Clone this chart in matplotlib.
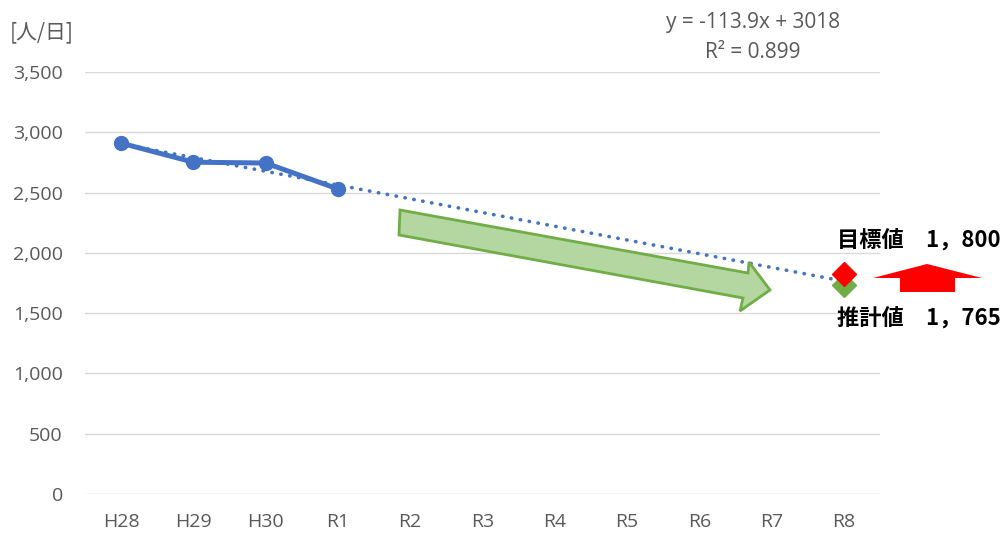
import matplotlib
matplotlib.use("Agg")
import matplotlib.pyplot as plt
from matplotlib.patches import Polygon
import numpy as np

plt.rcParams['font.family'] = ['Open Sans', 'Noto Sans CJK JP', 'DejaVu Sans']

categories = ["H28", "H29", "H30", "R1", "R2", "R3", "R4", "R5", "R6", "R7", "R8"]
actual = [2910, 2752, 2745, 2530]
trend_slope = -113.9
trend_intercept = 3018
target_value = 1825
estimate_value = 1730
yticks = [0, 500, 1000, 1500, 2000, 2500, 3000, 3500]

W, H = 1003, 533
fig = plt.figure(figsize=(W / 100, H / 100), dpi=100)
ax = fig.add_axes([85 / W, (H - 494) / H, 795 / W, 422 / H])

blue = "#4472C4"
gray = "#595959"

x = np.arange(len(categories))
# trend line
tx = np.arange(len(categories))
ty = trend_intercept + trend_slope * (tx + 1)
ax.plot(tx, ty, color=blue, lw=2.6, linestyle=(0, (0.1, 2.4)), dash_capstyle='round', zorder=3)
# actual
ax.plot(x[:len(actual)], actual, color=blue, lw=3.6, marker='o', markersize=10, zorder=4)
# diamonds
ax.plot([x[-1]], [estimate_value], marker='D', color='#70AD47', markersize=12, linestyle='none', zorder=5, clip_on=False)
ax.plot([x[-1]], [target_value], marker='D', color='#FF0000', markersize=12, linestyle='none', zorder=6, clip_on=False)

ax.set_xlim(-0.5, len(categories) - 0.5)
ax.set_ylim(0, 3500)
ax.set_yticks(yticks)
ax.set_yticklabels([f"{v:,}" for v in yticks])
ax.set_xticks(x)
ax.set_xticklabels(categories)
ax.grid(axis='y', color='#D9D9D9', lw=1)
ax.set_axisbelow(True)
for s in ax.spines.values():
    s.set_visible(False)
ax.tick_params(length=0, colors=gray, labelsize=14)
ax.tick_params(axis='y', pad=16)
ax.tick_params(axis='x', pad=14)

# pixel -> figure fraction helper
def fp(px, py):
    return (px / W, 1 - py / H)

# green arrow
green_pts = [(400, 210), (748, 273), (749, 262), (770, 290), (740, 311), (743, 298), (399, 235)]
fig.patches.append(Polygon([fp(*p) for p in green_pts], closed=True, transform=fig.transFigure,
                           facecolor='#B4D6A0', edgecolor='#70AD47', lw=2, zorder=2))
# red arrow
red_pts = [(927, 264), (982, 278), (955, 278), (955, 292), (900, 292), (900, 278), (873, 278)]
fig.patches.append(Polygon([fp(*p) for p in red_pts], closed=True, transform=fig.transFigure,
                           facecolor='#FF0000', edgecolor='none', zorder=2))

# texts
fig.text(10 / W, 1 - 32 / H, "[人/日]", color=gray, fontsize=15, va='center', ha='left',
         family=['Noto Sans CJK JP', 'DejaVu Sans'])
fig.text(753 / W, 1 - 22 / H, f"y = {trend_slope}x + {trend_intercept}", color=gray, fontsize=15,
         ha='center', va='center')
fig.text(753 / W, 1 - 52 / H, "R² = 0.899", color=gray, fontsize=15, ha='center', va='center')
fig.text(1001 / W, 1 - 240 / H, "目標値　1，800", fontsize=16, fontweight='bold', ha='right', va='center',
         family=['Noto Sans CJK JP', 'DejaVu Sans'])
fig.text(1001 / W, 1 - 318 / H, "推計値　1，765", fontsize=16, fontweight='bold', ha='right', va='center',
         family=['Noto Sans CJK JP', 'DejaVu Sans'])

fig.savefig("out.png", dpi=100, facecolor='white')
